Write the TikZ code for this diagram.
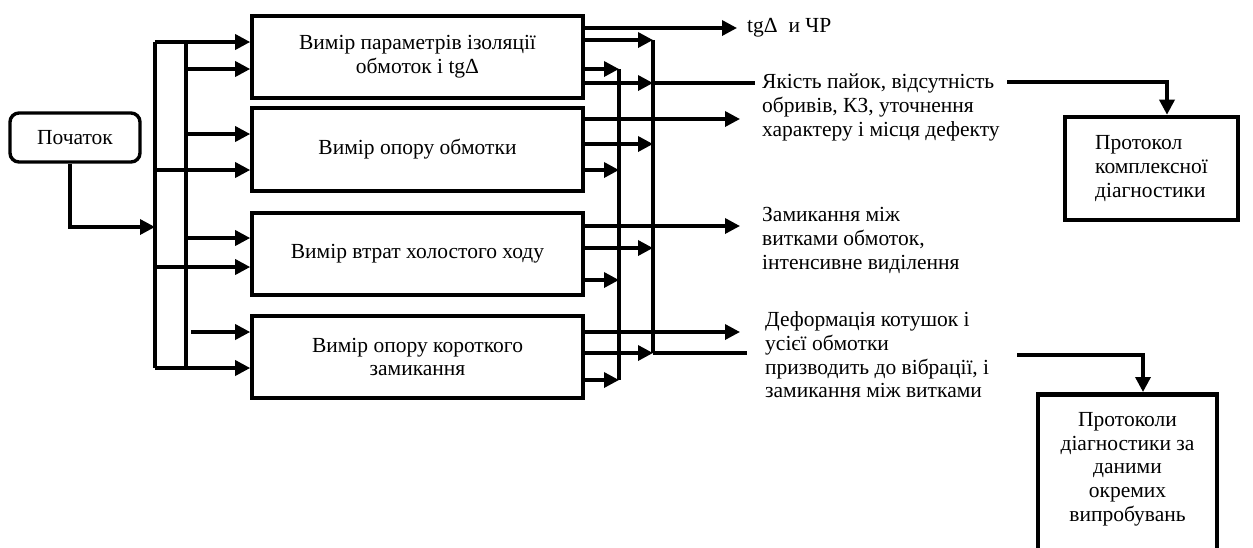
\documentclass[tikz,border=0pt]{standalone}
\usepackage{fontspec}
\setmainfont{Liberation Serif}
\usetikzlibrary{arrows.meta}
\begin{document}
\begin{tikzpicture}[x=1pt,y=-1pt,
  every node/.style={font=\fontsize{21.5}{23.7}\selectfont},
  ln/.style={line width=3.4pt},
  arr/.style={ln,-{Triangle[length=15pt,width=15pt]}},
  mbox/.style={draw,line width=3.6pt,minimum width=331pt,minimum height=82pt,align=center,inner sep=0pt},
  pbox/.style={draw,line width=4.6pt,inner sep=0pt},
  lbl/.style={anchor=north west,align=left,inner sep=0pt}]
\useasboundingbox (0,0) rectangle (1253,547);
\clip (0,0) rectangle (1253,547);

% start block
\node[draw,line width=3.4pt,rounded corners=9pt,minimum width=130pt,minimum height=49pt] (start) at (75,137.5) {Початок};

% measurement blocks
\node[mbox] (m1) at (417.5,57) {Вимір параметрів ізоляції\\обмоток і tgΔ};
\node[mbox,minimum height=83pt] (m2) at (417.5,149.5) {Вимір опору обмотки};
\node[mbox] (m3) at (417.5,254) {Вимір втрат холостого ходу};
\node[mbox] (m4) at (417.5,357) {Вимір опору короткого\\замикання};

% result texts
\node[inner sep=0pt,anchor=west] (tg) at (747,28) {tgΔ\ \ и ЧР};
\node[lbl] (r1) at (762,72) {\strut Якість пайок, відсутність\\обривів, КЗ, уточнення\\характеру і місця дефекту};
\node[lbl] (r2) at (762,205) {\strut Замикання між\\витками обмоток,\\інтенсивне виділення};
\node[lbl] (r3) at (765,310) {\strut Деформація котушок і\\усієї обмотки\\призводить до вібрації, і\\замикання між витками};

% protocols
\node[pbox,minimum width=173pt,minimum height=103pt,align=left] (p1) at (1151.5,168.5) {Протокол\\комплексної\\діагностики};
\node[pbox,minimum width=179pt,minimum height=200pt,anchor=north] (p2) at (1127.5,392) {};
\node[align=center,inner sep=0pt] (p2t) at (1127.5,469) {Протоколи\\діагностики за\\даними\\окремих\\випробувань};

% buses
\coordinate (bLt) at (155,42);  \coordinate (bLb) at (155,368);
\coordinate (bIt) at (186,42);  \coordinate (bIb) at (186,368);
\coordinate (bRt) at (653,40);  \coordinate (bRb) at (653,353);
\coordinate (bJt) at (619,69);  \coordinate (bJb) at (619,380);
\coordinate (q1) at (1007,82);  \coordinate (q2) at (1017,355);
\draw[ln] (bLt) -- (bLb);
\draw[ln] (bIt) -- (bIb);
\draw[ln] (bRt) -- (bRb);
\draw[ln] (bJt) -- (bJb);

% start to input bus
\draw[arr] ([xshift=-5pt]start.south) |- (bLt |- 0,227);

% inputs
\draw[arr] (bLt) -- (m1.west |- bLt);
\draw[arr] (186,69) -- (m1.west |- 0,69);
\draw[arr] (186,134) -- (m2.west |- 0,134);
\draw[arr] (155,170) -- (m2.west |- 0,170);
\draw[arr] (186,238) -- (m3.west |- 0,238);
\draw[arr] (155,267) -- (m3.west |- 0,267);
\draw[arr] (191,332) -- (m4.west |- 0,332);
\draw[arr] (bLb) -- (m4.west |- bLb);

% outputs of block 1
\draw[arr] (m1.east |- 0,28) -- ([xshift=-10pt]tg.west);
\draw[arr] (m1.east |- bRt) -- (bRt);
\draw[arr] (m1.east |- bJt) -- (bJt);
\draw[arr] (m1.east |- 0,83) -- (653,83);
\draw[ln] (653,83) -- (755,83);
% outputs of block 2
\draw[arr] (m2.east |- 0,119) -- (740,119);
\draw[arr] (m2.east |- 0,144) -- (653,144);
\draw[arr] (m2.east |- 0,170) -- (619,170);
% outputs of block 3
\draw[arr] (m3.east |- 0,226) -- (740,226);
\draw[arr] (m3.east |- 0,248) -- (653,248);
\draw[arr] (m3.east |- 0,280) -- (619,280);
% outputs of block 4
\draw[arr] (m4.east |- 0,332) -- (740,332);
\draw[arr] (m4.east |- bRb) -- (bRb);
\draw[ln] (bRb) -- (747,353);
\draw[arr] (m4.east |- bJb) -- (bJb);

% to protocols
\draw[arr] (q1) -| (p1.north -| 1167,0);
\draw[arr] (q2) -| (p2.north -| 1143,0);
\end{tikzpicture}
\end{document}
